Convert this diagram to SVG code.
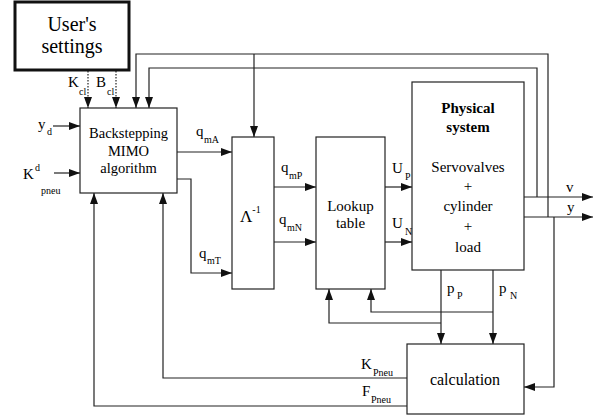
<svg xmlns="http://www.w3.org/2000/svg" width="608" height="416" viewBox="0 0 608 416">
<defs>
<marker id="ah" markerUnits="userSpaceOnUse" markerWidth="12" markerHeight="10" refX="11" refY="4" orient="auto">
<path d="M0,0 L11,4 L0,8 z" fill="#111"/>
</marker>
</defs>
<rect width="608" height="416" fill="#fff"/>
<g id="connectors" fill="none" stroke="#222" stroke-width="1.2" marker-end="url(#ah)">
<path stroke-dasharray="1.5,1.5" d="M88,71 V108"/>
<path stroke-dasharray="1.5,1.5" d="M116,71 V108"/>
<path d="M548,217 V54 H136 V108"/>
<path d="M537,197 V68 H149 V108"/>
<path d="M254,54 V137"/>
<path d="M53,126 H80"/>
<path d="M54,173 H80"/>
<path d="M177,152 H232"/>
<path d="M177,179 H191 V273 H232"/>
<path d="M274,187 H316"/>
<path d="M274,242 H316"/>
<path d="M385,187 H412"/>
<path d="M385,242 H412"/>
<path d="M524,197 H593"/>
<path d="M524,217 H593"/>
<path d="M554,217 V387 H524"/>
<path d="M441,270 V344"/>
<path d="M493,270 V344"/>
<path d="M493,312 H371 V289"/>
<path d="M441,323 H329 V289"/>
<path d="M407,378 H163 V193"/>
<path d="M407,406 H94 V193"/>
</g>
<g id="users-settings" font-family="Times New Roman, Liberation Serif, serif" text-anchor="middle" font-size="20">
<rect x="15" y="2" width="114" height="68" fill="#fff" stroke="#111" stroke-width="3"/>
<text x="72" y="31">User's</text>
<text x="72" y="53">settings</text>
</g>
<g id="backstepping" font-family="Times New Roman, Liberation Serif, serif" text-anchor="middle" font-size="14.5">
<rect x="80" y="108" width="97" height="85" fill="#fff" stroke="#222" stroke-width="1.2"/>
<text x="128.5" y="138">Backstepping</text>
<text x="128.5" y="156">MIMO</text>
<text x="128.5" y="173">algorithm</text>
</g>
<g id="lambda" font-family="Times New Roman, Liberation Serif, serif">
<rect x="232" y="137" width="42" height="152" fill="#fff" stroke="#222" stroke-width="1.2"/>
<text x="240" y="222" font-size="17">Λ<tspan font-size="10" dy="-9">-1</tspan></text>
</g>
<g id="lookup" font-family="Times New Roman, Liberation Serif, serif" text-anchor="middle" font-size="15">
<rect x="316" y="137" width="69" height="152" fill="#fff" stroke="#222" stroke-width="1.2"/>
<text x="350.5" y="211">Lookup</text>
<text x="350.5" y="228">table</text>
</g>
<g id="physical" font-family="Times New Roman, Liberation Serif, serif" text-anchor="middle" font-size="15">
<rect x="412" y="82" width="112" height="188" fill="#fff" stroke="#222" stroke-width="1.2"/>
<text x="468" y="113" font-weight="bold">Physical</text>
<text x="468" y="132" font-weight="bold">system</text>
<text x="468" y="172">Servovalves</text>
<text x="468" y="191">+</text>
<text x="468" y="211">cylinder</text>
<text x="468" y="231">+</text>
<text x="468" y="252">load</text>
</g>
<g id="calculation" font-family="Times New Roman, Liberation Serif, serif" text-anchor="middle" font-size="16">
<rect x="407" y="344" width="117" height="70" fill="#fff" stroke="#222" stroke-width="1.2"/>
<text x="465" y="385">calculation</text>
</g>
<g id="labels" font-family="Times New Roman, Liberation Serif, serif" font-size="15">
<text x="68" y="87">K</text><text font-size="10" x="79" y="95">cl</text>
<text x="96" y="87">B</text><text font-size="10" x="107" y="95">cl</text>
<text x="38" y="129">y</text><text font-size="10" x="47" y="135">d</text>
<text x="23" y="179">K</text><text font-size="10" x="35" y="171">d</text><text font-size="10" x="41" y="194">pneu</text>
<text x="196" y="136">q</text><text font-size="10" x="204" y="143">mA</text>
<text x="199" y="258">q</text><text font-size="10" x="207" y="264">mT</text>
<text x="281" y="172">q</text><text font-size="10" x="289" y="179">mP</text>
<text x="279" y="224">q</text><text font-size="10" x="287" y="231">mN</text>
<text x="392" y="173">U</text><text font-size="10" x="405" y="180">P</text>
<text x="392" y="228">U</text><text font-size="10" x="405" y="235">N</text>
<text x="566" y="192">v</text>
<text x="567" y="212">y</text>
<text x="447" y="293">p</text><text font-size="10" x="457" y="299">P</text>
<text x="499" y="293">p</text><text font-size="10" x="510" y="299">N</text>
<text x="361" y="369">K</text><text font-size="10" x="373" y="376">Pneu</text>
<text x="362" y="396">F</text><text font-size="10" x="371" y="403">Pneu</text>
</g>
</svg>
